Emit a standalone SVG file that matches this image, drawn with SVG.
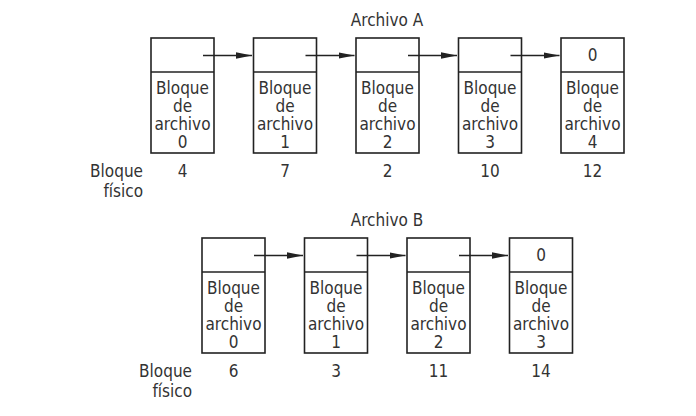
<svg xmlns="http://www.w3.org/2000/svg" width="696" height="416" viewBox="0 0 696 416">
<style>
.box{fill:#fff;stroke:#222;stroke-width:1.6}
.t{font-family:"DejaVu Sans Condensed","DejaVu Sans",sans-serif;font-stretch:condensed;font-size:17px;fill:#333;text-anchor:middle}
.r{text-anchor:end}
.c{stroke:#222;stroke-width:1.4;fill:none;marker-end:url(#ah)}
</style>
<defs>
<marker id="ah" markerWidth="16" markerHeight="8" refX="16" refY="4" orient="auto" markerUnits="userSpaceOnUse">
<path d="M0,0.8 L16,4 L0,7.2 Z" fill="#222"/>
</marker>
<g id="blk">
<rect class="box" x="0" y="0" width="63" height="115"/>
<line x1="0" y1="34" x2="63" y2="34" stroke="#222" stroke-width="1.6"/>
<text class="t" x="31.5" y="56">Bloque</text>
<text class="t" x="31.5" y="74">de</text>
<text class="t" x="31.5" y="92">archivo</text>
</g>
</defs>
<text class="t" x="387" y="26">Archivo A</text>
<g id="a0"><use href="#blk" x="151" y="38"/><text class="t" x="182.5" y="148">0</text></g>
<g id="a1"><use href="#blk" x="253.5" y="38"/><text class="t" x="285" y="148">1</text></g>
<g id="a2"><use href="#blk" x="356" y="38"/><text class="t" x="387.5" y="148">2</text></g>
<g id="a3"><use href="#blk" x="458.5" y="38"/><text class="t" x="490" y="148">3</text></g>
<g id="a4"><use href="#blk" x="561" y="38"/><text class="t" x="592.5" y="148">4</text><text class="t" x="592.5" y="61">0</text></g>
<text class="t r" x="143" y="177">Bloque</text>
<text class="t r" x="143" y="197">físico</text>
<text class="t" x="182.5" y="177">4</text>
<text class="t" x="285" y="177">7</text>
<text class="t" x="387.5" y="177">2</text>
<text class="t" x="490" y="177">10</text>
<text class="t" x="592.5" y="177">12</text>

<text class="t" x="387" y="226">Archivo B</text>
<g id="b0"><use href="#blk" x="202" y="238"/><text class="t" x="233.5" y="348">0</text></g>
<g id="b1"><use href="#blk" x="304.5" y="238"/><text class="t" x="336" y="348">1</text></g>
<g id="b2"><use href="#blk" x="407" y="238"/><text class="t" x="438.5" y="348">2</text></g>
<g id="b3"><use href="#blk" x="509.5" y="238"/><text class="t" x="541" y="348">3</text><text class="t" x="541" y="261">0</text></g>
<text class="t r" x="192" y="377">Bloque</text>
<text class="t r" x="192" y="397">físico</text>
<text class="t" x="233.5" y="377">6</text>
<text class="t" x="336" y="377">3</text>
<text class="t" x="438.5" y="377">11</text>
<text class="t" x="541" y="377">14</text>

<g id="connectors">
<line class="c" x1="203" y1="55.5" x2="252" y2="55.5"/>
<line class="c" x1="305.5" y1="55.5" x2="354.5" y2="55.5"/>
<line class="c" x1="408" y1="55.5" x2="457" y2="55.5"/>
<line class="c" x1="510.5" y1="55.5" x2="559.5" y2="55.5"/>
<line class="c" x1="254" y1="255.5" x2="303" y2="255.5"/>
<line class="c" x1="356.5" y1="255.5" x2="405.5" y2="255.5"/>
<line class="c" x1="459" y1="255.5" x2="508" y2="255.5"/>
</g>
</svg>
